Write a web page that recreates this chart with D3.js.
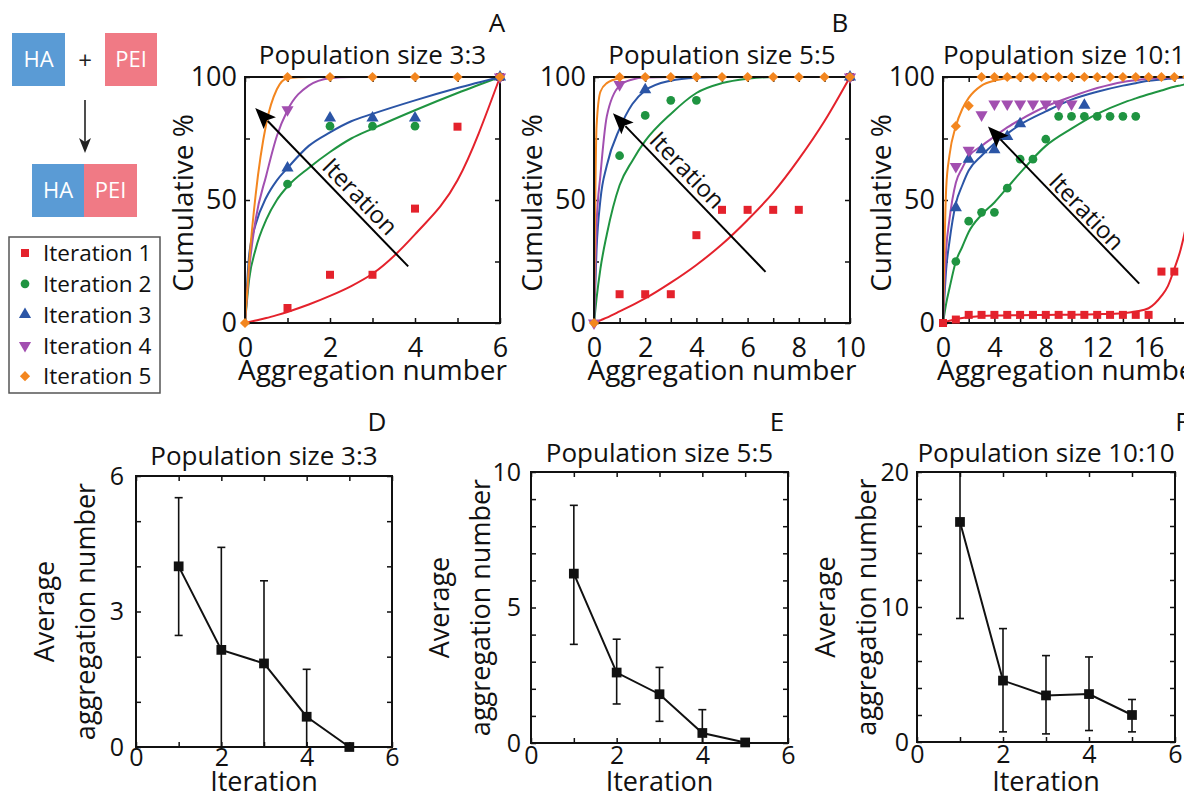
<!DOCTYPE html>
<html>
<head>
<meta charset="utf-8">
<script src="https://cdn.jsdelivr.net/npm/d3@7"></script>
<style>
body { margin: 0; background: #fff; overflow: hidden; }
svg { display: block; font-family: "Open Sans", sans-serif; }
</style>
</head>
<body>
<div id="graph"></div>
<script>
// ---- series labels / colours
var iterNames = ["Iteration 1", "Iteration 2", "Iteration 3", "Iteration 4", "Iteration 5"];
var iterColors = ["#e4222c", "#1f9441", "#2b55a6", "#a24fb0", "#f3861f"];

// ---- panel A, population 3:3 (cumulative %)
var aX = [0, 1, 2, 3, 4, 5, 6];
var aPts1 = [null, 6.1, 19.6, 19.6, 46.5, 79.8, 100];
var aPts2 = [null, 56.5, 80, 80, 80, null, 100];
var aPts3 = [null, 63, 83.3, 83.3, 83.3, null, 100];
var aPts4 = [null, 86.7, null, null, null, null, 100];
var aPts5 = [0, 100, 100, 100, 100, 100, 100];
var aFitX = [0, 0.1, 0.25, 0.5, 0.75, 1, 1.5, 2, 2.5, 3, 4, 5, 6];
var aFit1 = [0, 0.4, 1, 2, 3.2, 4.5, 7.5, 11, 15, 20, 36, 58, 100];
var aFit2 = [0, 18, 30, 42, 50, 55.5, 63, 69.5, 75, 79, 86.5, 93.5, 100];
var aFit3 = [0, 28, 40, 51, 58, 63, 72, 77.5, 82, 85, 90.5, 95.5, 100];
var aFit4 = [0, 22, 42, 60, 76, 86.5, 96.5, 99.5, 100, 100, 100, 100, 100];
var aFit5 = [0, 25, 52, 81, 95, 99.5, 100, 100, 100, 100, 100, 100, 100];

// ---- panel B, population 5:5
var bX = [0, 1, 2, 3, 4, 5, 6, 7, 8, 9, 10];
var bPts1 = [null, 11.7, 11.7, 11.7, 35.7, 46, 46, 46, 46, null, 100];
var bPts2 = [null, 68, 84.4, 90.5, 90.5, null, null, null, null, null, 100];
var bPts3 = [null, null, 94.8, null, null, null, null, null, null, null, 100];
var bPts4 = [0, 96.9, null, null, null, null, null, null, null, null, 100];
var bPts5 = [0, 100, 100, 100, 100, 100, 100, 100, 100, 100, 100];
var bFitX = [0, 0.1, 0.25, 0.5, 1, 1.5, 2, 3, 4, 5, 6, 7, 8, 9, 10];
var bFit1 = [0, 0.4, 1.1, 2.2, 4.7, 7.3, 10, 16.4, 23.6, 32, 41.9, 53, 66.6, 82, 100];
var bFit2 = [0, 10, 22, 36, 56, 66, 74, 85, 93.5, 97.5, 99.3, 100, 100, 100, 100];
var bFit3 = [0, 30, 50, 64, 79, 89, 94.5, 98.5, 99.7, 100, 100, 100, 100, 100, 100];
var bFit4 = [0, 40, 60, 84, 96.5, 99, 99.8, 100, 100, 100, 100, 100, 100, 100, 100];
var bFit5 = [0, 80, 94, 97.5, 99.5, 100, 100, 100, 100, 100, 100, 100, 100, 100, 100];

// ---- panel C, population 10:10
var cX = d3.range(0, 21);
var cPts1 = [0, 1.4, 3.3, 3.3, 3.3, 3.3, 3.3, 3.3, 3.3, 3.3, 3.3, 3.3, 3.3, 3.3, 3.3, 3.3, 3.3, 20.9, 20.9, null, null];
var cPts2 = [null, 25, 41.4, 45, 45, 54.8, 66.6, 66.6, 74.7, 84, 84, 84, 84, 84, 84, 84, null, null, null, null, null];
var cPts3 = [null, 46.9, 66.6, 70.4, 70.4, 75.8, 81, null, null, null, null, 88.5, null, null, null, null, null, null, null, null, null];
var cPts4 = [null, 63.6, 70.2, 84.6, 89, 89, 89, 89, 89, 89, 89, null, null, null, null, null, null, null, null, null, null];
var cPts5 = [null, 80, 88.3, 100, 100, 100, 100, 100, 100, 100, 100, 100, 100, 100, 100, 100, 100, 100, 100, 100, 100];
var cFitX = [0, 0.25, 0.5, 1, 1.5, 2, 3, 4, 5, 6, 8, 10, 12, 14, 15, 16, 17, 17.5, 18, 18.5, 19, 19.5, 20];
var cFit1 = [0, 0.5, 0.9, 1.5, 2, 2.4, 2.8, 3, 3.1, 3.2, 3.3, 3.4, 3.6, 4, 4.7, 6, 11, 15, 22, 30, 42, 62, 100];
var cFit2 = [0, 8, 14, 25, 31, 37, 44, 49, 55, 61, 72, 79, 85, 89.5, 91.3, 93, 94.5, 95.3, 96, 96.6, 97.2, 97.7, 98.2];
var cFit3 = [0, 22, 33, 48.6, 56, 62, 68, 73, 77, 80.6, 86, 90.8, 94, 96.5, 97.5, 98.5, 99, 99.3, 99.5, 99.7, 99.8, 99.9, 100];
var cFit4 = [0, 30, 42, 57, 63, 67.7, 72, 75.8, 79.5, 82.6, 88, 92, 95.5, 98, 98.7, 99.3, 99.6, 99.7, 99.8, 99.9, 100, 100, 100];
var cFit5 = [0, 55, 68, 80, 87, 91.5, 96.5, 98.5, 99.5, 100, 100, 100, 100, 100, 100, 100, 100, 100, 100, 100, 100, 100, 100];

// "Iteration" arrows, data coordinates [from, to]
var aArrow = [[3.84, 23], [0.24, 87.4]];
var bArrow = [[6.7, 20.8], [0.74, 85.3]];
var cArrow = [[15.27, 16], [3.5, 79.9]];

// ---- panels D-F, average aggregation number
var iterX = [1, 2, 3, 4, 5];
var dMean = [4.0, 2.15, 1.85, 0.67, 0];
var dLow = [2.47, 0, 0, 0, 0];
var dHigh = [5.52, 4.42, 3.68, 1.72, 0];
var eMean = [6.25, 2.6, 1.8, 0.37, 0.02];
var eLow = [3.64, 1.44, 0.8, 0, 0];
var eHigh = [8.77, 3.83, 2.79, 1.23, 0];
var fMean = [16.3, 4.55, 3.45, 3.55, 2.0];
var fLow = [9.15, 0.75, 0.6, 0.85, 0.75];
var fHigh = [20, 8.4, 6.4, 6.3, 3.15];

var FONT = "'Open Sans', sans-serif";
var svg = d3.select("#graph").append("svg").attr("width", 1184).attr("height", 802);

// marker shapes per iteration
var shapes = [
  {type: d3.symbolSquare, size: 64, rot: 0},
  {type: d3.symbolCircle, size: 60, rot: 0},
  {type: d3.symbolTriangle, size: 64, rot: 0},
  {type: d3.symbolTriangle, size: 64, rot: 180},
  {type: d3.symbolSquare, size: 52, rot: 45}
];

function addAxes(g, x, y, box, o) {
  var fx = function(d) { return o.xLabels.indexOf(d) >= 0 ? d : ""; };
  var fy = function(d) { return o.yLabels.indexOf(d) >= 0 ? d : ""; };
  g.append("g").attr("transform", "translate(0," + box.b + ")")
    .call(d3.axisBottom(x).tickValues(o.xTicks).tickSize(-5).tickPadding(o.xPad).tickFormat(fx));
  g.append("g").attr("transform", "translate(0," + box.t + ")")
    .call(d3.axisTop(x).tickValues(o.xTicks).tickSize(-5).tickFormat(""));
  g.append("g").attr("transform", "translate(" + box.l + ",0)")
    .call(d3.axisLeft(y).tickValues(o.yTicks).tickSize(-5).tickPadding(o.yPad).tickFormat(fy));
  g.append("g").attr("transform", "translate(" + box.r + ",0)")
    .call(d3.axisRight(y).tickValues(o.yTicks).tickSize(-5).tickFormat(""));
  g.selectAll(".domain").remove();
  g.selectAll(".tick line").attr("stroke", "#111").attr("stroke-width", 1.5);
  g.selectAll("g").attr("font-family", FONT).attr("font-size", o.font);
  g.selectAll(".tick text").attr("fill", "#111");
}

function frame(g, box) {
  g.append("rect").attr("x", box.l).attr("y", box.t)
    .attr("width", box.r - box.l).attr("height", box.b - box.t)
    .attr("fill", "none").attr("stroke", "#111").attr("stroke-width", 2);
}

function drawArrow(g, x, y, arr, t, off) {
  var x0 = x(arr[0][0]), y0 = y(arr[0][1]), x1 = x(arr[1][0]), y1 = y(arr[1][1]);
  var dx = x1 - x0, dy = y1 - y0, len = Math.hypot(dx, dy);
  var ux = dx / len, uy = dy / len;
  var hl = 21, hw = 8.5;
  var bx = x1 - ux * hl, by = y1 - uy * hl;
  g.append("line").attr("x1", x0).attr("y1", y0).attr("x2", bx + ux * 3).attr("y2", by + uy * 3)
    .attr("stroke", "#000").attr("stroke-width", 2);
  g.append("path")
    .attr("d", "M" + x1 + "," + y1 + "L" + (bx - uy * hw) + "," + (by + ux * hw) +
      "L" + (bx + ux * 4) + "," + (by + uy * 4) +
      "L" + (bx + uy * hw) + "," + (by - ux * hw) + "Z")
    .attr("fill", "#000");
  var tx = x0 + dx * t - uy * off, ty = y0 + dy * t + ux * off;
  var ang = Math.atan2(-dy, -dx) * 180 / Math.PI;
  g.append("text").attr("transform", "translate(" + tx + "," + ty + ") rotate(" + ang + ")")
    .attr("text-anchor", "middle").attr("dy", "0.35em")
    .attr("font-size", 24).attr("fill", "#111").text("Iteration");
}

function drawCumulative(p) {
  var box = p.box;
  var x = d3.scaleLinear().domain([0, p.xMax]).range([box.l, box.r]);
  var y = d3.scaleLinear().domain([0, 100]).range([box.b, box.t]);
  var g = svg.append("g");

  addAxes(g, x, y, box, {
    xTicks: d3.range(0, p.xMax + 1, p.xStep), xLabels: d3.range(0, p.xMax + 1, p.xLabelStep),
    yTicks: [0, 25, 50, 75, 100], yLabels: [0, 50, 100], xPad: 15, yPad: 8, font: 27
  });

  // fitted curves
  p.fits.forEach(function(vals, i) {
    var line = d3.line()
      .x(function(d, j) { return x(p.fitX[j]); })
      .y(function(d) { return y(d); })
      .curve(d3.curveMonotoneX);
    g.append("path").datum(vals).attr("d", line)
      .attr("fill", "none").attr("stroke", iterColors[i]).attr("stroke-width", 2);
  });

  frame(g, box);

  // data points
  p.pts.forEach(function(vals, i) {
    var sh = shapes[i];
    var sym = d3.symbol().type(sh.type).size(sh.size);
    g.append("g").selectAll("path")
      .data(vals.map(function(v, j) { return [p.x[j], v]; }).filter(function(d) { return d[1] !== null; }))
      .enter().append("path")
      .attr("d", sym)
      .attr("transform", function(d) { return "translate(" + x(d[0]) + "," + y(d[1]) + ") rotate(" + sh.rot + ")"; })
      .attr("fill", iterColors[i]);
  });

  drawArrow(g, x, y, p.arrow, p.textT, p.textOff);

  g.append("text").attr("x", (box.l + box.r) / 2).attr("y", 64).attr("text-anchor", "middle")
    .attr("font-size", 26).attr("fill", "#111").text(p.title);
  g.append("text").attr("x", (box.l + box.r) / 2).attr("y", 380).attr("text-anchor", "middle")
    .attr("font-size", 28).attr("fill", "#111").text("Aggregation number");
  g.append("text").attr("transform", "translate(" + (box.l - 62) + "," + 203 + ") rotate(-90)")
    .attr("text-anchor", "middle").attr("dy", "0.35em")
    .attr("font-size", 28).attr("fill", "#111").text("Cumulative %");
  g.append("text").attr("x", p.letterX).attr("y", 32).attr("text-anchor", "middle")
    .attr("font-size", 26).attr("fill", "#111").text(p.letter);
}

function drawAverage(p) {
  var box = p.box;
  var x = d3.scaleLinear().domain([0, 6]).range([box.l, box.r]);
  var y = d3.scaleLinear().domain([0, p.yMax]).range([box.b, box.t]);
  var g = svg.append("g");

  addAxes(g, x, y, box, {
    xTicks: d3.range(0, 7), xLabels: [0, 2, 4, 6],
    yTicks: d3.range(0, p.yMax + 1, p.yStep), yLabels: p.yLabels,
    xPad: p.xPad, yPad: p.yPad, font: 25
  });
  frame(g, box);

  var pts = iterX.map(function(v, i) { return {x: v, m: p.mean[i], lo: p.low[i], hi: p.high[i]}; });

  // error bars
  var eb = g.append("g").attr("stroke", "#111").attr("stroke-width", 1.6);
  pts.forEach(function(d) {
    if (d.hi === d.lo) return;
    eb.append("line").attr("x1", x(d.x)).attr("x2", x(d.x)).attr("y1", y(d.lo)).attr("y2", y(d.hi));
    eb.append("line").attr("x1", x(d.x) - 4).attr("x2", x(d.x) + 4).attr("y1", y(d.hi)).attr("y2", y(d.hi));
    if (d.lo > 0) eb.append("line").attr("x1", x(d.x) - 4).attr("x2", x(d.x) + 4).attr("y1", y(d.lo)).attr("y2", y(d.lo));
  });

  g.append("path").datum(pts)
    .attr("d", d3.line().x(function(d) { return x(d.x); }).y(function(d) { return y(d.m); }))
    .attr("fill", "none").attr("stroke", "#111").attr("stroke-width", 2);

  g.selectAll(".mk").data(pts).enter().append("path").attr("class", "mk")
    .attr("d", d3.symbol().type(d3.symbolSquare).size(95))
    .attr("transform", function(d) { return "translate(" + x(d.x) + "," + y(d.m) + ")"; })
    .attr("fill", "#111");

  g.append("text").attr("x", (box.l + box.r) / 2).attr("y", p.titleY).attr("text-anchor", "middle")
    .attr("font-size", 26).attr("fill", "#111").text(p.title);
  g.append("text").attr("x", (box.l + box.r) / 2).attr("y", 791).attr("text-anchor", "middle")
    .attr("font-size", 27).attr("fill", "#111").text("Iteration");
  var cy = (box.t + box.b) / 2;
  g.append("text").attr("transform", "translate(" + (box.l - 91) + "," + cy + ") rotate(-90)")
    .attr("text-anchor", "middle").attr("dy", "0.35em")
    .attr("font-size", 27).attr("fill", "#111").text("Average");
  g.append("text").attr("transform", "translate(" + (box.l - 50) + "," + cy + ") rotate(-90)")
    .attr("text-anchor", "middle").attr("dy", "0.35em")
    .attr("font-size", 27).attr("fill", "#111").text("aggregation number");
  g.append("text").attr("x", p.letterX).attr("y", 431).attr("text-anchor", "middle")
    .attr("font-size", 26).attr("fill", "#111").text(p.letter);
}

drawCumulative({letter: "A", letterX: 497, title: "Population size 3:3",
  box: {l: 245, r: 500, t: 77, b: 323}, xMax: 6, xStep: 1, xLabelStep: 2,
  x: aX, pts: [aPts1, aPts2, aPts3, aPts4, aPts5],
  fitX: aFitX, fits: [aFit1, aFit2, aFit3, aFit4, aFit5],
  arrow: aArrow, textT: 0.38, textOff: 14});

drawCumulative({letter: "B", letterX: 840, title: "Population size 5:5",
  box: {l: 594, r: 850, t: 77, b: 323}, xMax: 10, xStep: 1, xLabelStep: 2,
  x: bX, pts: [bPts1, bPts2, bPts3, bPts4, bPts5],
  fitX: bFitX, fits: [bFit1, bFit2, bFit3, bFit4, bFit5],
  arrow: bArrow, textT: 0.58, textOff: 14});

drawCumulative({letter: "C", letterX: 1192, title: "Population size 10:10",
  box: {l: 943, r: 1200, t: 77, b: 323}, xMax: 20, xStep: 2, xLabelStep: 4,
  x: cX, pts: [cPts1, cPts2, cPts3, cPts4, cPts5],
  fitX: cFitX, fits: [cFit1, cFit2, cFit3, cFit4, cFit5],
  arrow: cArrow, textT: 0.405, textOff: 12});

drawAverage({letter: "D", letterX: 377, title: "Population size 3:3", titleY: 465,
  box: {l: 136, r: 392, t: 476, b: 747}, yMax: 6, yStep: 1, yLabels: [0, 3, 6],
  xPad: 1, yPad: 12, mean: dMean, low: dLow, high: dHigh});

drawAverage({letter: "E", letterX: 777, title: "Population size 5:5", titleY: 462,
  box: {l: 531, r: 788, t: 472, b: 743}, yMax: 10, yStep: 1, yLabels: [0, 5, 10],
  xPad: 3, yPad: 10, mean: eMean, low: eLow, high: eHigh});

drawAverage({letter: "F", letterX: 1182, title: "Population size 10:10", titleY: 462,
  box: {l: 917, r: 1175, t: 472, b: 742}, yMax: 20, yStep: 2, yLabels: [0, 10, 20],
  xPad: 3, yPad: 8, mean: fMean, low: fLow, high: fHigh});

// ---- schematic: HA + PEI -> HA-PEI
var blue = "#5a9bd5", pink = "#f07a85";
var sch = svg.append("g").attr("font-size", 22).attr("fill", "#fff").attr("text-anchor", "middle");
sch.append("rect").attr("x", 12).attr("y", 33).attr("width", 53).attr("height", 53).attr("fill", blue);
sch.append("rect").attr("x", 105).attr("y", 33).attr("width", 52).attr("height", 53).attr("fill", pink);
sch.append("text").attr("x", 38.5).attr("y", 67).text("HA");
sch.append("text").attr("x", 131).attr("y", 67).text("PEI");
sch.append("text").attr("x", 85).attr("y", 69).attr("fill", "#222").attr("font-size", 24).text("+");
sch.append("line").attr("x1", 85).attr("x2", 85).attr("y1", 100).attr("y2", 146)
  .attr("stroke", "#222").attr("stroke-width", 1.6);
sch.append("path").attr("d", "M85,153L79,138L85,142L91,138Z").attr("fill", "#222");
sch.append("rect").attr("x", 32).attr("y", 164).attr("width", 52).attr("height", 53).attr("fill", blue);
sch.append("rect").attr("x", 84).attr("y", 164).attr("width", 53).attr("height", 53).attr("fill", pink);
sch.append("text").attr("x", 58).attr("y", 198).text("HA");
sch.append("text").attr("x", 110.5).attr("y", 198).text("PEI");

// ---- legend
var leg = svg.append("g");
leg.append("rect").attr("x", 9).attr("y", 237).attr("width", 151).attr("height", 156)
  .attr("fill", "#fff").attr("stroke", "#555").attr("stroke-width", 1.5);
iterNames.forEach(function(name, i) {
  var cy = 253 + i * 30.8;
  var sh = shapes[i];
  leg.append("path").attr("d", d3.symbol().type(sh.type).size(sh.size))
    .attr("transform", "translate(25," + cy + ") rotate(" + sh.rot + ")")
    .attr("fill", iterColors[i]);
  leg.append("text").attr("x", 43).attr("y", cy).attr("dy", "0.36em")
    .attr("font-size", 22.5).attr("fill", "#111").text(name);
});
</script>
</body>
</html>
